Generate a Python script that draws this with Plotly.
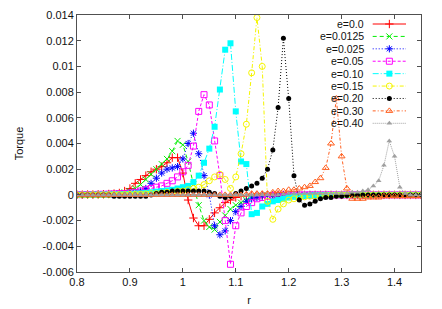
import plotly.graph_objects as go

# ---------------- data ----------------
R = [0.80, 0.81, 0.82, 0.83, 0.84, 0.85, 0.86, 0.87, 0.88, 0.89,
     0.90, 0.91, 0.92, 0.93, 0.94, 0.95, 0.96, 0.97, 0.98, 0.99,
     1.00, 1.01, 1.02, 1.03, 1.04, 1.05, 1.06, 1.07, 1.08, 1.09,
     1.10, 1.11, 1.12, 1.13, 1.14, 1.15, 1.16, 1.17, 1.18, 1.19,
     1.20, 1.21, 1.22, 1.23, 1.24, 1.25, 1.26, 1.27, 1.28, 1.29,
     1.30, 1.31, 1.32, 1.33, 1.34, 1.35, 1.36, 1.37, 1.38, 1.39,
     1.40, 1.41, 1.42, 1.43, 1.44, 1.45]

T_e000 = [0.00002, 0.00002, 0.00003, 0.00003, 0.00004, 0.00005, 0.00007, 0.0001, 0.00015, 0.0003,
          0.0005, 0.0009, 0.0012, 0.0015, 0.0018, 0.0020, 0.0022, 0.0025, 0.0029, 0.0029,
          0.0017, -0.0004, -0.0018, -0.0024, -0.0024, -0.0019, -0.0014, -0.0010, -0.0006, -0.0004,
          -0.0002, -0.0001, -0.00006, -0.00004, -0.00003, -0.00002, -0.00002, -0.00001, -0.00001, 0.0,
          0, 0, 0, 0, 0, 0, 0, 0, 0, 0,
          0, 0, 0, 0, 0, 0, 0, 0, 0, 0,
          0, 0, 0, 0, 0, 0]

T_e0125 = [0.00002, 0.00002, 0.00003, 0.00003, 0.00004, 0.00005, 0.00006, 0.0001, 0.00015, 0.0002,
           0.0003, 0.0005, 0.0008, 0.0012, 0.0016, 0.0020, 0.0024, 0.0028, 0.0034, 0.0042,
           0.0039, 0.0026, 0.0008, -0.0008, -0.0020, -0.0025, -0.0027, -0.0021, -0.0016, -0.0011,
           -0.0008, -0.0006, -0.0004, -0.0002, -0.0001, -0.00006, -0.00004, -0.00003, -0.00002, -0.00001,
           0, 0, 0, 0, 0, 0, 0, 0, 0, 0,
           0, 0, 0, 0, 0, 0, 0, 0, 0, 0,
           0, 0, 0, 0, 0, 0]

T_e025 = [0.00001, 0.00001, 0.00002, 0.00002, 0.00003, 0.00003, 0.00004, 0.00005, 0.00007, 0.0001,
          0.00015, 0.0002, 0.0003, 0.0005, 0.0009, 0.0013, 0.0017, 0.0020, 0.0021, 0.0022,
          0.0028, 0.0040, 0.0048, 0.0032, 0.0015, 0.0000, -0.0024, -0.0031, -0.0028, -0.0020,
          -0.0013, -0.0009, -0.0005, -0.0003, -0.0002, -0.0001, -0.00006, -0.00004, -0.00002, -0.00001,
          0, 0, 0, 0, 0, 0, 0, 0, 0, 0,
          0, 0, 0, 0, 0, 0, 0, 0, 0, 0,
          0, 0, 0, 0, 0, 0]

T_e05 = [0.00002, 0.00002, 0.00003, 0.00003, 0.00004, 0.00005, 0.00006, 0.00008, 0.0001, 0.0001,
         0.00015, 0.0002, 0.0003, 0.0004, 0.0005, 0.0006, 0.0007, 0.0009, 0.0011, 0.0014,
         0.0018, 0.0023, 0.0038, 0.0065, 0.0078, 0.0070, 0.0042, 0.0015, -0.0020, -0.0054,
         -0.0024, -0.0014, -0.0009, -0.0006, -0.0003, -0.0002, -0.0001, -0.00006, -0.00004, -0.00002,
         -0.00001, 0, 0, 0, 0, 0, 0, 0, 0, 0,
         0, 0, 0, 0, 0, 0, 0, 0, 0, 0,
         0, 0, 0, 0, 0, 0]

T_e10 = [0.00001, 0.00001, 0.00001, 0.00002, 0.00002, 0.00003, 0.00003, 0.00004, 0.00005, 0.00006,
         0.00008, 0.0001, 0.00012, 0.00015, 0.0002, 0.00025, 0.0003, 0.00035, 0.0004, 0.0005,
         0.0006, 0.0007, 0.0010, 0.0015, 0.0025, 0.0036, 0.0053, 0.0082, 0.0113, 0.0118,
         0.0065, 0.0026, 0.0024, -0.0015, -0.0014, -0.0009, -0.0007, -0.0005, -0.0004, -0.0003,
         -0.0002, -0.00015, -0.0001, -0.00008, -0.00006, -0.00004, -0.00003, -0.00002, -0.00001, 0,
         0, 0, 0, 0, 0, 0, 0, 0, 0, 0,
         0, 0, 0, 0, 0, 0]

T_e15 = [0, 0, 0, 0.00001, 0.00001, 0.00001, 0.00002, 0.00002, 0.00003, 0.00003,
         0.00004, 0.00005, 0.00006, 0.00007, 0.0001, 0.0001, 0.00015, 0.0002, 0.0002, 0.0003,
         0.0003, 0.0004, 0.0005, 0.0006, 0.0008, 0.0011, 0.0014, 0.0016, 0.0012, 0.0005,
         0.0014, 0.0032, 0.0055, 0.0095, 0.0138, 0.0100, -0.0005, -0.0019, -0.0011, -0.0007,
         -0.0004, -0.0003, -0.0002, -0.00015, -0.0001, -0.00008, -0.00006, -0.00004, -0.00002, -0.00001,
         0, 0, 0, 0, 0, 0, 0, 0, 0, 0,
         0, 0, 0, 0, 0, 0]

T_e20 = [0, 0, 0, 0, 0, 0, 0, -0.0001, -0.0001, -0.0001,
         -0.0001, -0.0001, -0.0001, -0.0001, 0.0, 0.0001, 0.0002, 0.0002, 0.0003, 0.0003,
         0.0003, 0.0003, 0.0003, 0.0003, 0.0003, 0.0002, 0.0001, -0.0001, -0.0002, -0.0001,
         0.0001, 0.0003, 0.0005, 0.0007, 0.0009, 0.0013, 0.0020, 0.0035, 0.0068, 0.0122,
         0.0075, 0.0015, -0.0004, -0.0008, -0.0007, -0.0005, -0.0003, -0.0002, -0.0002, -0.0001,
         -0.0001, -0.00005, -0.00003, 0, 0, 0, 0, 0, 0, 0,
         0, 0, 0, 0, 0, 0]

T_e30 = [0, 0, 0, 0, 0, 0, 0, 0, 0, 0,
         0, 0, 0, 0, 0, 0, 0, 0, 0, 0,
         0, 0, 0, 0, 0, 0, 0, 0, 0, 0,
         0, 0, 0.00005, 0.0001, 0.0001, 0.0001, 0.0001, 0.0002, 0.0003, 0.0003,
         0.0004, 0.0004, 0.0005, 0.0006, 0.0007, 0.0010, 0.0013, 0.0021, 0.0040, 0.0075,
         0.0030, 0.0005, -0.0003, -0.0003, -0.0003, -0.0002, -0.0002, -0.0002, -0.0001, -0.0001,
         -0.0001, -0.0001, -0.0001, -0.0001, -0.0001, -0.0001]

T_e40 = [0, 0, 0, 0, 0, 0, 0, 0, 0, 0,
         0, 0, 0, 0, 0, 0, 0, 0, 0, 0,
         0, 0, 0, 0, 0, 0, 0, 0, 0, 0,
         0, 0, 0, 0, 0, 0, 0, 0, 0, 0.00005,
         0.0001, 0.0001, 0.0001, 0.0001, 0.0001, 0.0001, 0.0001, 0.0001, 0.0001, 0.0001,
         0.0001, 0.0001, 0.0002, 0.0002, 0.0003, 0.0004, 0.0007, 0.0011, 0.0023, 0.0042,
         0.0030, 0.0006, 0.0001, 0.0, 0.0, 0.0]

SERIES_NAMES = ["e=0.0", "e=0.0125", "e=0.025", "e=0.05", "e=0.10",
                "e=0.15", "e=0.20", "e=0.30", "e=0.40"]
SERIES_VALUES = [T_e000, T_e0125, T_e025, T_e05, T_e10, T_e15, T_e20, T_e30, T_e40]

X_TICKS = [0.8, 0.9, 1.0, 1.1, 1.2, 1.3, 1.4]
X_TICK_LABELS = ["0.8", "0.9", "1", "1.1", "1.2", "1.3", "1.4"]
Y_TICKS = [-0.006, -0.004, -0.002, 0, 0.002, 0.004, 0.006, 0.008, 0.01, 0.012, 0.014]
Y_TICK_LABELS = ["-0.006", "-0.004", "-0.002", "0", "0.002", "0.004", "0.006",
                 "0.008", "0.01", "0.012", "0.014"]

# ---------------- styles ----------------
STYLES = [
    dict(color="#ff0000", dash="solid", symbol="cross-thin-open", size=6),
    dict(color="#00ee00", dash="4px,3px", symbol="x-thin-open", size=6),
    dict(color="#0000ff", dash="1px,2px", symbol="asterisk-open", size=6),
    dict(color="#ff00ff", dash="3px,2px", symbol="square-open", size=6),
    dict(color="#00ffff", dash="6px,2px,1px,2px", symbol="square", size=6),
    dict(color="#f5f500", dash="4px,2px,1px,2px", symbol="circle-open", size=6),
    dict(color="#000000", dash="1px,2px", symbol="circle", size=5),
    dict(color="#ff6020", dash="3px,2px,1px,2px", symbol="triangle-up-open", size=6),
    dict(color="#a0a0a0", dash="1px,1px", symbol="triangle-up", size=5),
]

FONT = "Liberation Sans, Arial, sans-serif"

fig = go.Figure()

for name, vals, st in zip(SERIES_NAMES, SERIES_VALUES, STYLES):
    filled = not st["symbol"].endswith("open")
    fig.add_trace(go.Scatter(
        x=R, y=vals, name=name, mode="lines+markers",
        line=dict(color=st["color"], width=1, dash=st["dash"]),
        marker=dict(symbol=st["symbol"], size=st["size"], color=st["color"],
                    line=dict(color=st["color"], width=1 if not filled else 0)),
        showlegend=False,
    ))

# ---------------- key (gnuplot style: text left, sample right) ----------------
KEY_TEXT_X = 0.837
KEY_X0, KEY_XM, KEY_X1 = 0.8596, 0.908, 0.9564
KEY_TOP = 0.965
KEY_STEP = 0.0483
annotations = []
for i, (name, st) in enumerate(zip(SERIES_NAMES, STYLES)):
    yk = KEY_TOP - i * KEY_STEP
    filled = not st["symbol"].endswith("open")
    fig.add_trace(go.Scatter(
        x=[KEY_X0, KEY_X1], y=[yk, yk], xaxis="x2", yaxis="y2", mode="lines",
        line=dict(color=st["color"], width=1, dash=st["dash"]),
        showlegend=False, hoverinfo="skip"))
    fig.add_trace(go.Scatter(
        x=[KEY_XM], y=[yk], xaxis="x2", yaxis="y2", mode="markers",
        marker=dict(symbol=st["symbol"], size=st["size"], color=st["color"],
                    line=dict(color=st["color"], width=1 if not filled else 0)),
        showlegend=False, hoverinfo="skip"))
    annotations.append(dict(
        x=KEY_TEXT_X, y=yk, xref="paper", yref="paper", text=name,
        showarrow=False, xanchor="right", yanchor="middle",
        borderpad=0,
        font=dict(size=10.5, color="#111", family=FONT)))

axis_common = dict(
    showline=True, linecolor="#505050", linewidth=1, mirror="allticks",
    ticks="inside", ticklen=4, tickcolor="#505050", tickwidth=1,
    showgrid=False, zeroline=False, automargin=False,
    tickfont=dict(size=11, color="#111", family=FONT),
)

# the page body adds an 8px offset, so the figure is sized to fill the rest
fig.update_layout(
    width=434, height=301,
    margin=dict(l=69, r=21, t=7, b=37, autoexpand=False),
    plot_bgcolor="white", paper_bgcolor="white",
    showlegend=False,
    font=dict(family=FONT, size=11, color="#111"),
    xaxis=dict(range=[0.8, 1.45], tickvals=X_TICKS, ticktext=X_TICK_LABELS,
               title=dict(text="r", standoff=9, font=dict(size=11)), **axis_common),
    yaxis=dict(range=[-0.006, 0.014], tickvals=Y_TICKS, ticktext=Y_TICK_LABELS,
               title=dict(text="Torque", standoff=16, font=dict(size=11)), **axis_common),
    xaxis2=dict(overlaying="x", anchor="y2", range=[0, 1], visible=False, fixedrange=True),
    yaxis2=dict(overlaying="y", anchor="x2", range=[0, 1], visible=False, fixedrange=True),
    annotations=annotations,
)

fig.write_html("out.html")
